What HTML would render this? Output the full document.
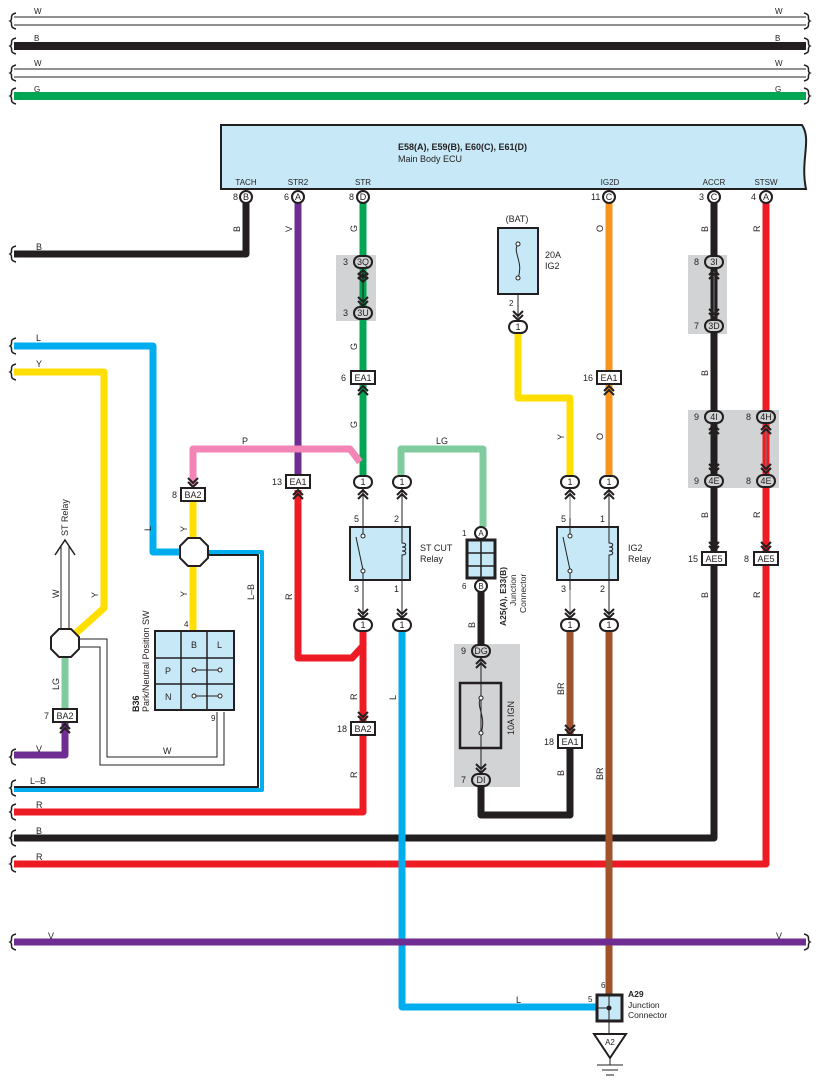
<!DOCTYPE html>
<html><head><meta charset="utf-8"><style>
html,body{margin:0;padding:0;background:#fff}
svg{display:block}
text{font-family:"Liberation Sans",Arial,sans-serif;font-size:9px;fill:#231f20}
.s{font-size:8px}
</style></head><body>
<svg width="818" height="1087" viewBox="0 0 818 1087" xmlns="http://www.w3.org/2000/svg">
<defs>
<path id="chd" d="M-5,-9 L0,-4 L5,-9 M-5,-5 L0,0 L5,-5" fill="none" stroke="#231f20" stroke-width="2"/>
<path id="chu" d="M-5,9 L0,4 L5,9 M-5,5 L0,0 L5,5" fill="none" stroke="#231f20" stroke-width="2"/>
<path id="brk" d="M16,-8 C8,-6 14,-2 10,0 C14,2 8,6 16,8" fill="none" stroke="#231f20" stroke-width="1.5"/>
<path id="brkr" d="M0,-8 C8,-6 2,-2 6,0 C2,2 8,6 0,8" fill="none" stroke="#231f20" stroke-width="1.5"/>
</defs>

<!-- top wires -->
<g>
<line x1="14" y1="17" x2="806" y2="17" stroke="#231f20" stroke-width="1"/>
<line x1="14" y1="25" x2="806" y2="25" stroke="#231f20" stroke-width="1"/>
<line x1="14" y1="46" x2="806" y2="46" stroke="#231f20" stroke-width="8"/>
<line x1="14" y1="69" x2="806" y2="69" stroke="#231f20" stroke-width="1"/>
<line x1="14" y1="77" x2="806" y2="77" stroke="#231f20" stroke-width="1"/>
<line x1="14" y1="96" x2="806" y2="96" stroke="#00a651" stroke-width="8"/>
<use href="#brk" x="0" y="21"/><use href="#brk" x="0" y="46"/><use href="#brk" x="0" y="73"/><use href="#brk" x="0" y="96"/>
<use href="#brkr" x="804" y="21"/><use href="#brkr" x="804" y="46"/><use href="#brkr" x="804" y="73"/><use href="#brkr" x="804" y="96"/>
<text x="34" y="14" class="s">W</text><text x="775" y="14" class="s">W</text>
<text x="34" y="41" class="s">B</text><text x="775" y="41" class="s">B</text>
<text x="34" y="66" class="s">W</text><text x="775" y="66" class="s">W</text>
<text x="34" y="92" class="s">G</text><text x="775" y="92" class="s">G</text>
</g>

<!-- ECU -->
<path d="M221,189 L221,125 L802,125 C812,140 800,160 806,189 Z" fill="#c6e8f7" stroke="#231f20" stroke-width="2"/>
<text x="398" y="150" style="font-weight:bold">E58(A), E59(B), E60(C), E61(D)</text>
<text x="398" y="162">Main Body ECU</text>
<text x="246" y="185" text-anchor="middle" class="s">TACH</text>
<text x="298" y="185" text-anchor="middle" class="s">STR2</text>
<text x="363" y="185" text-anchor="middle" class="s">STR</text>
<text x="610" y="185" text-anchor="middle" class="s">IG2D</text>
<text x="714" y="185" text-anchor="middle" class="s">ACCR</text>
<text x="766" y="185" text-anchor="middle" class="s">STSW</text>

<!-- gray boxes -->
<rect x="336" y="255" width="40" height="66" fill="#d1d3d4"/>
<rect x="688" y="255" width="39" height="79" fill="#d1d3d4"/>
<rect x="688" y="410" width="91" height="78" fill="#d1d3d4"/>
<rect x="454" y="644" width="66" height="143" fill="#d1d3d4"/>

<!-- wires -->
<g fill="none" stroke-width="7" stroke-linejoin="round">
<polyline points="246,200 246,254 14,254" stroke="#231f20"/>
<polyline points="298,200 298,478" stroke="#6f2c91"/>
<polyline points="363,200 363,476" stroke="#00a651"/>
<polyline points="609,200 609,476" stroke="#f7941d"/>
<polyline points="714,200 714,838 14,838" stroke="#231f20"/>
<polyline points="766,200 766,864 14,864" stroke="#ed1c24"/>
<polyline points="518,333 518,398 570,398 570,476" stroke="#ffde00"/>
<polyline points="193,486 193,449 350,449 360,462" stroke="#f285b5"/>
<polyline points="401,476 401,449 483,449 483,527" stroke="#80cc9e"/>
<polyline points="298,490 298,658 352,658 363,646" stroke="#ed1c24"/>
<polyline points="363,631 363,812 14,812" stroke="#ed1c24"/>
<polyline points="402,631 402,1007 597,1007" stroke="#00aeef"/>
<polyline points="481,592 481,646" stroke="#231f20"/>
<polyline points="481,786 481,815 570,815 570,745" stroke="#231f20"/>
<polyline points="570,631 570,735" stroke="#a0522d"/>
<polyline points="609,631 609,995" stroke="#a0522d"/>
<polyline points="14,942 806,942" stroke="#6f2c91"/>
<polyline points="14,346 153,346 153,552 182,552" stroke="#00aeef"/>
<polyline points="14,372 104,372 104,608 75,634" stroke="#ffde00"/>
<polyline points="193,500 193,631" stroke="#ffde00"/>
<polyline points="65,657 65,708" stroke="#80cc9e"/>
<polyline points="65,722 65,755 14,755" stroke="#6f2c91"/>
<!-- L-B -->
<polyline points="206,552 262,552 262,790 14,790" stroke="#00aeef" stroke-width="4"/>
<polyline points="206,555 258,555 258,787 14,787" stroke="#231f20" stroke-width="2"/>
</g>
<use href="#brk" x="0" y="254"/><use href="#brk" x="0" y="346"/><use href="#brk" x="0" y="372"/>
<use href="#brk" x="0" y="757"/><use href="#brk" x="0" y="788"/><use href="#brk" x="0" y="812"/>
<use href="#brk" x="0" y="838"/><use href="#brk" x="0" y="864"/><use href="#brk" x="0" y="942"/><use href="#brkr" x="804" y="942"/>

<!-- W double wires -->
<g fill="none" stroke="#231f20" stroke-width="1">
<polyline points="78,639 107,639 107,757 217,757 217,712"/>
<polyline points="78,647 100,647 100,765 224,765 224,712"/>
<line x1="61" y1="628" x2="61" y2="545"/><line x1="69" y1="628" x2="69" y2="545"/>
<polyline points="55,555 65,540 75,555" stroke-width="1.5"/>
</g>
<!-- thin link lines -->
<g stroke="#231f20" stroke-width="1" fill="none">
<line x1="363" y1="270" x2="363" y2="305"/><line x1="714" y1="270" x2="714" y2="318" stroke="#777"/>
<line x1="714" y1="425" x2="714" y2="473"/><line x1="766" y1="425" x2="766" y2="473" stroke="#777"/>
<line x1="518" y1="290" x2="518" y2="318"/>
<line x1="363" y1="490" x2="363" y2="618"/><line x1="402" y1="490" x2="402" y2="618"/>
<line x1="570" y1="490" x2="570" y2="618" stroke="#777"/><line x1="609" y1="490" x2="609" y2="618"/>
<line x1="481" y1="659" x2="481" y2="772"/>
<line x1="609" y1="1021" x2="609" y2="1034"/>
</g>

<!-- ECU pins -->
<g stroke="#231f20" stroke-width="2" fill="#fff">
<circle cx="246" cy="197" r="6"/><circle cx="298" cy="197" r="6"/><circle cx="363" cy="197" r="6"/>
<circle cx="609" cy="197" r="6"/><circle cx="714" cy="197" r="6"/><circle cx="766" cy="197" r="6"/>
</g>
<g class="s" text-anchor="middle" style="font-size:8px">
<text x="246" y="200">B</text><text x="298" y="200">A</text><text x="363" y="200">D</text>
<text x="609" y="200">C</text><text x="714" y="200">C</text><text x="766" y="200">A</text>
</g>
<g style="font-size:8px"><text x="233" y="200">8</text><text x="284" y="200">6</text><text x="349" y="200">8</text><text x="591" y="200">11</text><text x="699" y="200">3</text><text x="751" y="200">4</text></g>

<!-- fuse IG2 -->
<text x="517" y="222" text-anchor="middle">(BAT)</text>
<rect x="498" y="228" width="40" height="66" fill="#c6e8f7" stroke="#231f20" stroke-width="2"/>
<path d="M518,244 C512,252 524,262 518,278" fill="none" stroke="#231f20"/>
<circle cx="518" cy="244" r="2" fill="#fff" stroke="#231f20"/><circle cx="518" cy="278" r="2" fill="#fff" stroke="#231f20"/>
<text x="545" y="258">20A</text><text x="545" y="269">IG2</text>
<text x="509" y="306" class="s">2</text>

<!-- pill connectors -->
<g stroke="#231f20" stroke-width="2">
<rect x="354" y="256" width="18" height="12" rx="6" fill="#d1d3d4"/>
<rect x="354" y="307" width="18" height="12" rx="6" fill="#d1d3d4"/>
<rect x="705" y="256" width="18" height="12" rx="6" fill="#d1d3d4"/>
<rect x="705" y="320" width="18" height="12" rx="6" fill="#d1d3d4"/>
<rect x="705" y="411" width="18" height="12" rx="6" fill="#d1d3d4"/>
<rect x="705" y="475" width="18" height="12" rx="6" fill="#d1d3d4"/>
<rect x="757" y="411" width="18" height="12" rx="6" fill="#d1d3d4"/>
<rect x="757" y="475" width="18" height="12" rx="6" fill="#d1d3d4"/>
<rect x="472" y="645" width="18" height="12" rx="6" fill="#d1d3d4"/>
<rect x="472" y="774" width="18" height="12" rx="6" fill="#d1d3d4"/>
<rect x="509" y="321" width="18" height="12" rx="6" fill="#fff"/>
<rect x="354" y="476" width="18" height="12" rx="6" fill="#fff"/>
<rect x="393" y="476" width="18" height="12" rx="6" fill="#fff"/>
<rect x="561" y="476" width="18" height="12" rx="6" fill="#fff"/>
<rect x="600" y="476" width="18" height="12" rx="6" fill="#fff"/>
<rect x="354" y="619" width="18" height="12" rx="6" fill="#fff"/>
<rect x="393" y="619" width="18" height="12" rx="6" fill="#fff"/>
<rect x="561" y="619" width="18" height="12" rx="6" fill="#fff"/>
<rect x="600" y="619" width="18" height="12" rx="6" fill="#fff"/>
</g>
<g text-anchor="middle" style="font-size:8px">
<text x="363" y="265">3Q</text><text x="363" y="316">3U</text>
<text x="714" y="265">3I</text><text x="714" y="329">3D</text>
<text x="714" y="420">4I</text><text x="714" y="484">4E</text>
<text x="766" y="420">4H</text><text x="766" y="484">4E</text>
<text x="481" y="654">DG</text><text x="481" y="783">DI</text>
<text x="518" y="330">1</text>
<text x="363" y="485">1</text><text x="402" y="485">1</text><text x="570" y="485">1</text><text x="609" y="485">1</text>
<text x="363" y="628">1</text><text x="402" y="628">1</text><text x="570" y="628">1</text><text x="609" y="628">1</text>
</g>
<g style="font-size:8px">
<text x="343" y="265">3</text><text x="343" y="316">3</text><text x="694" y="265">8</text><text x="694" y="329">7</text>
<text x="694" y="420">9</text><text x="694" y="484">9</text><text x="746" y="420">8</text><text x="746" y="484">8</text>
<text x="461" y="654">9</text><text x="461" y="783">7</text>
</g>

<!-- rect connectors -->
<g stroke="#231f20" stroke-width="2" fill="#fff">
<rect x="351" y="371" width="24" height="13"/>
<rect x="597" y="371" width="24" height="13"/>
<rect x="286" y="475" width="24" height="13"/>
<rect x="181" y="488" width="24" height="13"/>
<rect x="53" y="709" width="24" height="13"/>
<rect x="351" y="722" width="24" height="13"/>
<rect x="558" y="735" width="24" height="13"/>
<rect x="702" y="552" width="24" height="13"/>
<rect x="754" y="552" width="24" height="13"/>
</g>
<g text-anchor="middle" style="font-size:8.5px">
<text x="363" y="381">EA1</text><text x="609" y="381">EA1</text><text x="298" y="485">EA1</text>
<text x="193" y="498">BA2</text><text x="65" y="719">BA2</text><text x="363" y="732">BA2</text>
<text x="570" y="745">EA1</text><text x="714" y="562">AE5</text><text x="766" y="562">AE5</text>
</g>
<g style="font-size:8px">
<text x="341" y="381">6</text><text x="583" y="381">16</text><text x="272" y="485">13</text>
<text x="172" y="498">8</text><text x="44" y="719">7</text><text x="337" y="732">18</text>
<text x="544" y="745">18</text><text x="688" y="562">15</text><text x="744" y="562">8</text>
</g>

<!-- chevrons -->
<use href="#chd" x="363" y="282"/><use href="#chu" x="363" y="270"/>
<use href="#chd" x="363" y="306"/>
<use href="#chd" x="714" y="318"/><use href="#chu" x="714" y="270"/>
<use href="#chd" x="714" y="473"/><use href="#chu" x="714" y="425"/>
<use href="#chd" x="766" y="473"/><use href="#chu" x="766" y="425"/>
<use href="#chd" x="518" y="320"/>
<use href="#chu" x="363" y="386"/><use href="#chu" x="609" y="386"/>
<use href="#chu" x="298" y="490"/>
<use href="#chd" x="193" y="487"/>
<use href="#chu" x="65" y="724"/>
<use href="#chd" x="363" y="721"/>
<use href="#chd" x="570" y="734"/>
<use href="#chd" x="714" y="551"/><use href="#chd" x="766" y="551"/>
<use href="#chu" x="363" y="490"/><use href="#chu" x="402" y="490"/><use href="#chu" x="570" y="490"/><use href="#chu" x="609" y="490"/>
<use href="#chd" x="363" y="618"/><use href="#chd" x="402" y="618"/><use href="#chd" x="570" y="618"/><use href="#chd" x="609" y="618"/>
<use href="#chu" x="481" y="659"/><use href="#chd" x="481" y="773"/>

<!-- relays -->
<g stroke="#231f20" fill="#c6e8f7" stroke-width="2">
<rect x="350" y="527" width="60" height="53"/>
<rect x="557" y="527" width="61" height="53"/>
</g>
<g stroke="#231f20" fill="none" stroke-width="1">
<line x1="363" y1="518" x2="363" y2="537"/><line x1="363" y1="572" x2="363" y2="590"/>
<line x1="356" y1="537" x2="363" y2="570"/>
<path d="M402,518 L402,543 c5,0 5,4 0,4 c5,0 5,4 0,4 c5,0 5,4 0,4 L402,590"/>
<line x1="570" y1="518" x2="570" y2="537"/><line x1="570" y1="572" x2="570" y2="590"/>
<line x1="563" y1="537" x2="570" y2="570"/>
<path d="M609,518 L609,543 c5,0 5,4 0,4 c5,0 5,4 0,4 c5,0 5,4 0,4 L609,590"/>
</g>
<g fill="#fff" stroke="#231f20"><circle cx="363" cy="536" r="2"/><circle cx="363" cy="571" r="2"/><circle cx="570" cy="536" r="2"/><circle cx="570" cy="571" r="2"/></g>
<g style="font-size:8px"><text x="354" y="522">5</text><text x="394" y="522">2</text><text x="354" y="592">3</text><text x="394" y="592">1</text>
<text x="561" y="522">5</text><text x="600" y="522">1</text><text x="561" y="592">3</text><text x="600" y="592">2</text></g>
<text x="420" y="551">ST CUT</text><text x="420" y="562">Relay</text>
<text x="628" y="551">IG2</text><text x="628" y="562">Relay</text>

<!-- junction A25 -->
<rect x="467" y="540" width="28" height="38" fill="#c6e8f7" stroke="#231f20" stroke-width="3"/>
<g stroke="#231f20" stroke-width="1.5"><line x1="481" y1="540" x2="481" y2="578"/><line x1="467" y1="553" x2="495" y2="553"/><line x1="467" y1="566" x2="495" y2="566"/></g>
<circle cx="481" cy="533" r="6" fill="#fff" stroke="#231f20" stroke-width="2"/><circle cx="481" cy="586" r="6" fill="#fff" stroke="#231f20" stroke-width="2"/>
<text x="481" y="536" text-anchor="middle" style="font-size:8px">A</text><text x="481" y="589" text-anchor="middle" style="font-size:8px">B</text>
<text x="462" y="536" style="font-size:8px">1</text><text x="462" y="589" style="font-size:8px">6</text>
<text transform="translate(506,626) rotate(-90)" style="font-weight:bold;font-size:8.5px">A25(A), E33(B)</text>
<text transform="translate(516,606) rotate(-90)" style="font-size:8.5px">Junction</text>
<text transform="translate(526,613) rotate(-90)" style="font-size:8.5px">Connector</text>

<!-- fuse 10A IGN -->
<rect x="460" y="683" width="41" height="65" fill="none" stroke="#231f20" stroke-width="2.5"/>
<path d="M481,698 C475,706 487,716 481,733" fill="none" stroke="#231f20"/>
<circle cx="481" cy="698" r="2" fill="#fff" stroke="#231f20"/><circle cx="481" cy="733" r="2" fill="#fff" stroke="#231f20"/>
<text transform="translate(514,735) rotate(-90)">10A IGN</text>

<!-- octagons -->
<polygon points="188,538 200,538 208,546 208,558 200,566 188,566 180,558 180,546" fill="#fff" stroke="#231f20" stroke-width="2"/>
<polygon points="59,629 71,629 79,637 79,649 71,657 59,657 51,649 51,637" fill="#fff" stroke="#231f20" stroke-width="2"/>
<text transform="translate(68,536) rotate(-90)">ST Relay</text>

<!-- B36 -->
<rect x="155" y="631" width="79" height="79" fill="#c6e8f7" stroke="#231f20" stroke-width="2"/>
<g stroke="#231f20" stroke-width="1.5"><line x1="181" y1="631" x2="181" y2="710"/><line x1="207" y1="631" x2="207" y2="710"/><line x1="155" y1="658" x2="234" y2="658"/><line x1="155" y1="684" x2="234" y2="684"/></g>
<g stroke="#231f20" stroke-width="1" fill="#fff"><line x1="194" y1="670" x2="220" y2="670"/><line x1="194" y1="696" x2="220" y2="696"/>
<circle cx="194" cy="670" r="2"/><circle cx="220" cy="670" r="2"/><circle cx="194" cy="696" r="2"/><circle cx="220" cy="696" r="2"/></g>
<text x="191" y="648">B</text><text x="217" y="648">L</text><text x="165" y="674">P</text><text x="165" y="700">N</text>
<text x="184" y="627" style="font-size:8px">4</text><text x="211" y="721" style="font-size:8px">9</text>
<text transform="translate(139,712) rotate(-90)" style="font-weight:bold">B36</text>
<text transform="translate(149,712) rotate(-90)">Park/Neutral Position SW</text>

<!-- A29 -->
<rect x="597" y="995" width="25" height="26" fill="#c6e8f7" stroke="#231f20" stroke-width="3"/>
<line x1="609" y1="995" x2="609" y2="1021" stroke="#231f20"/><line x1="597" y1="1008" x2="609" y2="1008" stroke="#231f20"/>
<circle cx="609" cy="1008" r="2.5" fill="#231f20"/>
<text x="601" y="988" style="font-size:8px">6</text><text x="588" y="1002" style="font-size:8px">5</text>
<text x="628" y="997" style="font-weight:bold;font-size:8.5px">A29</text>
<text x="628" y="1008" style="font-size:8.5px">Junction</text><text x="628" y="1018" style="font-size:8.5px">Connector</text>
<polygon points="594,1034 626,1034 610,1058" fill="#fff" stroke="#231f20" stroke-width="2"/>
<text x="610" y="1045" text-anchor="middle" style="font-size:8px">A2</text>
<g stroke="#231f20" stroke-width="1"><line x1="610" y1="1058" x2="610" y2="1065"/><line x1="597" y1="1065" x2="623" y2="1065"/><line x1="602" y1="1070" x2="618" y2="1070"/><line x1="606" y1="1075" x2="614" y2="1075"/></g>

<!-- wire color labels (rotated) -->
<g style="font-size:8px">
<text transform="translate(240,232) rotate(-90)">B</text>
<text transform="translate(292,232) rotate(-90)">V</text>
<text transform="translate(357,232) rotate(-90)">G</text>
<text transform="translate(357,350) rotate(-90)">G</text>
<text transform="translate(357,428) rotate(-90)">G</text>
<text transform="translate(603,232) rotate(-90)">O</text>
<text transform="translate(603,440) rotate(-90)">O</text>
<text transform="translate(708,232) rotate(-90)">B</text>
<text transform="translate(708,376) rotate(-90)">B</text>
<text transform="translate(708,518) rotate(-90)">B</text>
<text transform="translate(708,598) rotate(-90)">B</text>
<text transform="translate(760,232) rotate(-90)">R</text>
<text transform="translate(760,518) rotate(-90)">R</text>
<text transform="translate(760,598) rotate(-90)">R</text>
<text transform="translate(564,440) rotate(-90)">Y</text>
<text transform="translate(292,600) rotate(-90)">R</text>
<text transform="translate(357,700) rotate(-90)">R</text>
<text transform="translate(357,778) rotate(-90)">R</text>
<text transform="translate(396,700) rotate(-90)">L</text>
<text transform="translate(475,628) rotate(-90)">B</text>
<text transform="translate(564,695) rotate(-90)">BR</text>
<text transform="translate(564,776) rotate(-90)">B</text>
<text transform="translate(603,780) rotate(-90)">BR</text>
<text transform="translate(187,532) rotate(-90)">Y</text>
<text transform="translate(187,597) rotate(-90)">Y</text>
<text transform="translate(151,531) rotate(-90)">L</text>
<text transform="translate(254,600) rotate(-90)">L–B</text>
<text transform="translate(98,598) rotate(-90)">Y</text>
<text transform="translate(59,598) rotate(-90)">W</text>
<text transform="translate(59,690) rotate(-90)">LG</text>
<text x="242" y="444">P</text><text x="436" y="444">LG</text>
<text x="36" y="752">V</text><text x="30" y="784">L–B</text><text x="163" y="754">W</text>
<text x="36" y="808">R</text><text x="36" y="834">B</text><text x="36" y="860">R</text>
<text x="48" y="939">V</text><text x="776" y="939">V</text>
<text x="36" y="341">L</text><text x="36" y="367">Y</text><text x="36" y="250">B</text>
<text x="516" y="1003">L</text>
</g>
</svg>
</body></html>
